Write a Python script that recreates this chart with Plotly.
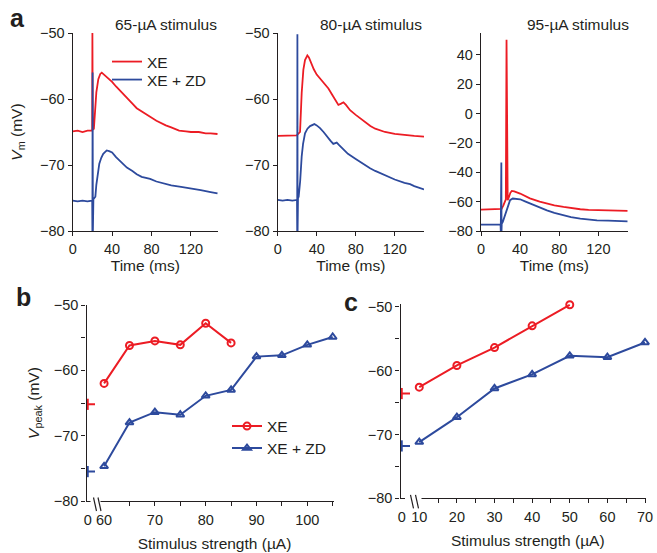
import plotly.graph_objects as go

# ---------------- data ----------------
# Panel a: membrane potential traces (time ms, Vm mV)
a1_red_t = [0, 5, 10, 15, 19.8, 20.0, 20.4, 21.5, 22.5, 24, 26, 28, 29.5, 31, 34, 38, 40, 44, 47, 50.5, 55, 60.6, 65, 70.8, 75, 78.6, 85, 90, 94.5, 100, 108, 115, 120, 128, 135, 140, 147]
a1_red_v = [-64.9, -64.8, -65.0, -64.8, -64.8, -50.0, -64.6, -64.5, -62.0, -59.0, -57.0, -56.2, -56.0, -56.2, -56.7, -57.2, -57.4, -58.1, -58.6, -59.1, -59.9, -60.7, -61.4, -62.0, -62.4, -62.7, -63.3, -63.7, -64.0, -64.3, -64.8, -64.9, -65.0, -65.0, -65.2, -65.2, -65.3]
a1_blue_t = [0, 5, 10, 15, 19.8, 20.0, 20.2, 20.5, 21.0, 22, 23, 24, 25.5, 27, 29, 31, 33, 34.5, 37, 40, 44, 48, 50.5, 55, 60.6, 65, 70, 78.6, 85, 94.5, 100, 110, 120, 130, 140, 147]
a1_blue_v = [-75.4, -75.5, -75.4, -75.5, -75.4, -80.0, -56.0, -80.0, -75.2, -75.0, -74.8, -73.0, -71.0, -69.8, -68.9, -68.3, -68.0, -67.8, -67.9, -68.1, -68.8, -69.4, -69.8, -70.4, -70.9, -71.4, -71.8, -72.1, -72.5, -72.9, -73.1, -73.3, -73.5, -73.8, -74.1, -74.3]

a2_red_t = [0, 5, 10, 15, 19.5, 21, 22.9, 24.6, 26.3, 28, 30.4, 32, 34, 37, 40, 44, 48, 52, 56, 58.8, 62.2, 65, 67.4, 70, 74.2, 80, 85, 91.3, 95, 100, 105, 110, 120, 130, 140, 150]
a2_red_v = [-65.6, -65.6, -65.5, -65.6, -65.5, -65.3, -65.0, -59.1, -55.6, -54.1, -53.4, -53.7, -54.5, -55.5, -56.3, -57.0, -57.6, -58.4, -59.4, -60.1, -60.9, -60.7, -60.5, -60.9, -61.7, -62.4, -63.0, -63.7, -64.1, -64.5, -64.8, -65.0, -65.3, -65.5, -65.6, -65.7]
a2_blue_t = [0, 5, 10, 15, 19.8, 20.0, 20.2, 20.4, 20.8, 21.5, 23, 24.6, 26, 28, 30.5, 33.2, 37.6, 40, 43.4, 47, 50.3, 54, 57, 60.5, 63, 67.4, 72, 80, 88, 94.7, 100, 110, 120, 130, 135.7, 140, 150]
a2_blue_v = [-75.3, -75.4, -75.3, -75.4, -75.3, -80.0, -50.2, -80.0, -75.0, -74.8, -72.5, -68.7, -66.8, -65.2, -64.5, -64.1, -63.8, -64.0, -64.4, -65.0, -65.7, -66.3, -66.8, -66.6, -67.0, -67.7, -68.3, -69.1, -69.9, -70.5, -70.9, -71.6, -72.2, -72.7, -72.9, -73.2, -73.7]

a3_red_t = [0, 5, 10, 15, 19.8, 21, 22.9, 24.0, 25.4, 26.1, 26.8, 27.3, 28.5, 30, 31.5, 34, 40, 50, 60, 67.4, 75, 84.4, 92, 101.5, 110, 120, 135, 150]
a3_red_v = [-65.4, -65.3, -65.4, -65.4, -65.4, -65.0, -62.5, -60.0, -58.5, 50.2, -45.0, -59.0, -57.0, -54.0, -52.7, -53.0, -54.5, -57.8, -60.0, -61.3, -62.5, -63.6, -64.5, -65.2, -65.6, -65.9, -66.1, -66.3]
a3_blue_t = [0, 5, 10, 15, 20.0, 20.2, 20.4, 20.6, 20.8, 21.0, 21.2, 22.3, 24, 26, 28, 29.7, 32.5, 36, 40, 45, 50.3, 60, 67.4, 75, 84.4, 92, 101.5, 110, 118.6, 130, 140, 150]
a3_blue_v = [-75.7, -75.6, -75.6, -75.7, -75.7, -80.0, -33.3, -80.0, -33.3, -80.0, -75.0, -73.8, -70.0, -65.9, -62.0, -59.0, -57.9, -58.0, -58.4, -59.8, -61.3, -64.0, -65.9, -67.6, -69.3, -70.5, -71.6, -72.2, -72.7, -73.0, -73.2, -73.4]

# Panel b: Vpeak vs stimulus strength
b_rest_x = [0]
b_rest_xe = [-65.2]
b_rest_zd = [-75.5]
b_xe_x = [60, 65, 70, 75, 80, 85]
b_xe_y = [-62.0, -56.2, -55.5, -56.1, -52.8, -55.8]
b_zd_x = [60, 65, 70, 75, 80, 85, 90, 95, 100, 105]
b_zd_y = [-74.7, -68.0, -66.4, -66.8, -63.9, -63.0, -57.9, -57.7, -56.1, -54.9]

# Panel c
c_rest_x = [0]
c_rest_xe = [-63.6]
c_rest_zd = [-71.8]
c_xe_x = [10, 20, 30, 40, 50]
c_xe_y = [-62.6, -59.2, -56.4, -53.0, -49.7]
c_zd_x = [10, 20, 30, 40, 50, 60, 70]
c_zd_y = [-71.2, -67.3, -62.8, -60.6, -57.7, -57.9, -55.6]

b_ticks = [60, 70, 80, 90, 100]
b_minor = [65, 70, 75, 80, 85, 90, 95, 100, 105]
c_ticks = [10, 20, 30, 40, 50, 60, 70]
c_minor = [15, 20, 25, 30, 35, 40, 45, 50, 55, 60, 65, 70]
a_xticks = [0, 40, 80, 120]

# ---------------- style ----------------
W, H = 657, 553
RED = "#ec1c24"
BLUE = "#2d4a9d"
INK = "#231f20"
FONT = "Liberation Sans, Arial, sans-serif"
TICKF = 14.5
TITLEF = 15.5

def px(x):
    return x / W

def py(y):
    return 1 - y / H

fig = go.Figure()

def trace(x, y, color, xa, ya, name=None, legend=None, show=False):
    fig.add_trace(go.Scatter(x=x, y=y, mode="lines", line=dict(color=color, width=1.8),
                             xaxis=xa, yaxis=ya, name=name, showlegend=show,
                             legend=legend, hoverinfo="skip"))

trace(a1_red_t, a1_red_v, RED, "x", "y", "XE", "legend", True)
trace(a1_blue_t, a1_blue_v, BLUE, "x", "y", "XE + ZD", "legend2", True)
trace(a2_red_t, a2_red_v, RED, "x2", "y2")
trace(a2_blue_t, a2_blue_v, BLUE, "x2", "y2")
trace(a3_red_t, a3_red_v, RED, "x3", "y3")
trace(a3_blue_t, a3_blue_v, BLUE, "x3", "y3")

def series(x, y, color, symbol, xa, ya, name=None, show=False, legend=None):
    fig.add_trace(go.Scatter(x=x, y=y, mode="lines+markers", cliponaxis=False,
                             line=dict(color=color, width=2),
                             marker=dict(symbol=symbol, size=7, color=color,
                                         line=dict(color=color, width=2)),
                             xaxis=xa, yaxis=ya, name=name, showlegend=show,
                             legend=legend, hoverinfo="skip"))

def rest(x, y, color, xa, ya, right):
    fig.add_trace(go.Scatter(x=x, y=y, mode="markers", cliponaxis=False,
                             marker=dict(symbol="line-ns", size=8,
                                         line=dict(color=color, width=2)),
                             error_x=dict(type="data", symmetric=False, array=[right],
                                          arrayminus=[0.25], width=0, thickness=2, color=color),
                             xaxis=xa, yaxis=ya, showlegend=False, hoverinfo="skip"))

series(b_xe_x, b_xe_y, RED, "circle-open", "x5", "y4", "XE", True, "legend3")
series(b_zd_x, b_zd_y, BLUE, "triangle-up-open", "x5", "y4", "XE + ZD", True, "legend4")
rest(b_rest_x, b_rest_xe, RED, "x4", "y4", 2.0)
rest(b_rest_x, b_rest_zd, BLUE, "x4", "y4", 2.0)
series(c_xe_x, c_xe_y, RED, "circle-open", "x7", "y5")
series(c_zd_x, c_zd_y, BLUE, "triangle-up-open", "x7", "y5")
rest(c_rest_x, c_rest_xe, RED, "x6", "y5", 2.2)
rest(c_rest_x, c_rest_zd, BLUE, "x6", "y5", 2.2)

axbase = dict(showline=True, linecolor=INK, linewidth=1.3, showgrid=False, zeroline=False,
              ticks="outside", ticklen=4, tickwidth=1.3, tickcolor=INK, automargin=False,
              tickfont=dict(family=FONT, size=TICKF, color=INK),
              title_font=dict(family=FONT, size=TITLEF, color=INK), fixedrange=True)

def ax(**kw):
    d = dict(axbase)
    d.update(kw)
    return d

def leg(x, ytop):
    return dict(x=px(x), y=py(ytop), xanchor="left", yanchor="top", bgcolor="rgba(0,0,0,0)",
                font=dict(family=FONT, size=TITLEF, color=INK), itemwidth=30)

vm_title = "<i>V</i><sub>m</sub> (mV)"
layout = dict(
    width=W, height=H, margin=dict(l=0, r=0, t=0, b=0, autoexpand=False),
    paper_bgcolor="white", plot_bgcolor="rgba(0,0,0,0)",
    font=dict(family=FONT, color=INK),
    # panel a
    xaxis=ax(domain=[px(72.7), px(218)], range=[0, 147.5], anchor="y",
             tickvals=a_xticks, title=dict(text="Time (ms)", standoff=4)),
    yaxis=ax(domain=[py(231), py(33)], range=[-80, -50], anchor="x", dtick=10,
             title=dict(text=vm_title, standoff=13)),
    xaxis2=ax(domain=[px(277.7), px(424)], range=[0, 150], anchor="y2",
              tickvals=a_xticks, title=dict(text="Time (ms)", standoff=4)),
    yaxis2=ax(domain=[py(231), py(33)], range=[-80, -50], anchor="x2", dtick=10),
    xaxis3=ax(domain=[px(481), px(627.7)], range=[0, 150], anchor="y3",
              tickvals=a_xticks, title=dict(text="Time (ms)", standoff=4)),
    yaxis3=ax(domain=[py(231), py(33)], range=[-80, 54.8], anchor="x3", dtick=20, tick0=-80),
    # panel b
    xaxis4=ax(domain=[px(86.5), px(95)], range=[-0.25, 1.45], anchor="y4",
              tickvals=[0], ticktext=["0"], ticks="", ticklabelstandoff=5),
    xaxis5=ax(domain=[px(95), px(334)], range=[58.21, 105.26], anchor="y4",
              tickvals=b_ticks, ticks="", ticklabelstandoff=5,
              minor=dict(tickvals=b_minor, ticks="outside", ticklen=4, tickwidth=1.3, tickcolor=INK),
              title=dict(text="Stimulus strength (µA)", standoff=11)),
    yaxis4=ax(domain=[py(501), py(305)], range=[-80, -50], anchor="x4", dtick=10, tick0=-80,
              minor=dict(dtick=5, tick0=-80, ticks="outside", ticklen=4, tickwidth=1.3, tickcolor=INK),
              title=dict(text="<i>V</i><sub>peak</sub> (mV)", standoff=10)),
    # panel c
    xaxis6=ax(domain=[px(400.5), px(410)], range=[-0.25, 1.65], anchor="y5",
              tickvals=[0], ticktext=["0"], ticks="", ticklabelstandoff=5),
    xaxis7=ax(domain=[px(410), px(645.5)], range=[7.54, 70.13], anchor="y5",
              tickvals=c_ticks, ticks="", ticklabelstandoff=5,
              minor=dict(tickvals=c_minor, ticks="outside", ticklen=4, tickwidth=1.3, tickcolor=INK),
              title=dict(text="Stimulus strength (µA)", standoff=11)),
    yaxis5=ax(domain=[py(498.3), py(303.5)], range=[-80, -49.5], anchor="x6", dtick=10, tick0=-80,
              minor=dict(dtick=5, tick0=-80, ticks="outside", ticklen=4, tickwidth=1.3, tickcolor=INK)),
    legend=leg(107, 45),
    legend2=leg(107, 63),
    legend3=leg(227, 409.5),
    legend4=leg(227, 431.5),
)
fig.update_layout(**layout)

# stimulus labels and panel letters
labels = [("65-µA stimulus", 166, 24.5), ("80-µA stimulus", 371, 24.5), ("95-µA stimulus", 578, 24.5)]
for txt, x, y in labels:
    fig.add_annotation(text=txt, x=px(x), y=py(y), xref="paper", yref="paper",
                       showarrow=False, xanchor="center", yanchor="middle",
                       font=dict(family=FONT, size=TITLEF, color=INK))
for txt, x, y in [("a", 17, 18), ("b", 23, 297), ("c", 351, 302)]:
    fig.add_annotation(text="<b>%s</b>" % txt, x=px(x), y=py(y), xref="paper", yref="paper",
                       showarrow=False, xanchor="center", yanchor="middle",
                       font=dict(family=FONT, size=25, color=INK))

# axis breaks
shapes = []
for (x0, x1, yax, m1, m2) in [(90.5, 100.5, 501, 93.5, 98.0), (405, 421.5, 498.3, 410.5, 415.5)]:
    shapes.append(dict(type="rect", xref="paper", yref="paper", x0=px(x0), x1=px(x1),
                       y0=py(yax + 2), y1=py(yax - 2), fillcolor="white", line=dict(width=0),
                       layer="above"))
    for m in (m1, m2):
        shapes.append(dict(type="line", xref="paper", yref="paper", x0=px(m), y0=py(yax - 3.5),
                           x1=px(m + 3), y1=py(yax + 10), line=dict(color=INK, width=1.2),
                           layer="above"))
fig.update_layout(shapes=shapes)

fig.write_html("out.html", config={"displayModeBar": False},
               post_script="document.body.style.margin='0';document.body.style.overflow='hidden';")
